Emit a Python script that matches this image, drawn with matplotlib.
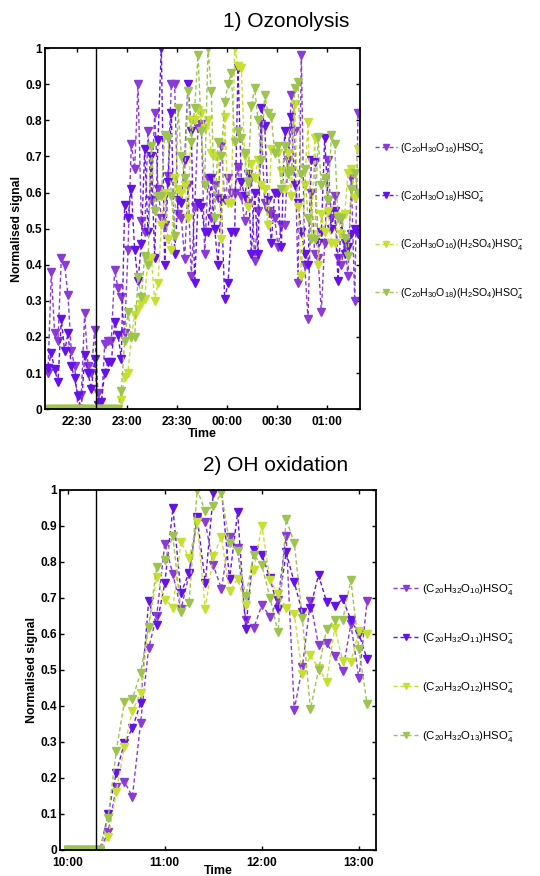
import matplotlib
matplotlib.use("Agg")
import matplotlib.pyplot as plt
import pandas as pd
import numpy as np

plt.rcParams['font.family'] = ['Liberation Sans', 'DejaVu Sans']
plt.rcParams['mathtext.default'] = 'regular'

# ---------------- data: 1) Ozonolysis (2-min sampling) ----------------
oz_start = '2000-01-01 22:12:36'
oz_n = 94
oz_s1 = [0.10, 0.38, 0.21, 0.19, 0.42, 0.40, 0.315, 0.16, 0.12, 0.0,
         0.04, 0.265, 0.12, 0.10, 0.22, 0.045, 0.0, 0.18, 0.19, 0.19,
         0.385, 0.335, 0.31, 0.21, 0.44, 0.735, 0.665, 0.90, 0.52, 0.49,
         0.77, 0.58, 0.82, 0.61, 0.53, 0.51, 0.645, 0.90, 0.90, 0.54,
         0.53, 0.415, 0.62, 0.37, 0.56, 0.78, 0.79, 0.43, 0.64, 0.53,
         0.62, 0.585, 0.73, 0.58, 0.64, 0.60, 0.60, 0.67, 0.59, 0.52,
         0.57, 0.64, 0.41, 0.55, 0.79, 0.57, 0.55, 0.54, 0.53, 0.45,
         0.51, 0.51, 0.69, 0.87, 0.77, 0.35, 0.98, 0.40, 0.25, 0.60,
         0.43, 0.42, 0.27, 0.46, 0.69, 0.53, 0.59, 0.42, 0.40, 0.46,
         0.37, 0.64, 0.30, 0.82]
oz_s2 = [0.115, 0.155, 0.11, 0.075, 0.25, 0.16, 0.21, 0.12, 0.085, 0.035,
         0.0, 0.15, 0.10, 0.055, 0.14, 0.01, 0.02, 0.10, 0.13, 0.13,
         0.24, 0.205, 0.14, 0.565, 0.53, 0.61, 0.44, 0.355, 0.457, 0.72,
         0.49, 0.70, 0.42, 0.745, 1.0, 0.40, 0.63, 0.82, 0.43, 0.58,
         0.57, 0.69, 0.90, 0.77, 0.35, 0.57, 0.56, 0.49, 0.49, 0.64,
         0.50, 0.40, 0.58, 0.305, 0.35, 0.49, 0.49, 0.945, 0.63, 0.59,
         0.65, 0.43, 0.60, 0.43, 0.835, 0.785, 0.58, 0.46, 0.60, 0.60,
         0.45, 0.77, 0.66, 0.81, 0.62, 0.57, 0.49, 0.43, 0.40, 0.69,
         0.685, 0.46, 0.49, 0.75, 0.58, 0.50, 0.55, 0.355, 0.53, 0.43,
         0.45, 0.485, 0.50, 0.485]
oz_s3 = [0.0] * 22 + [
         0.025, 0.09, 0.10, 0.20, 0.26, 0.277, 0.29, 0.305, 0.42, 0.42,
         0.30, 0.35, 0.51, 0.60, 0.47, 0.44, 0.64, 0.61, 0.60, 0.62,
         0.53, 0.80, 0.80, 0.83, 0.82, 0.78, 0.80, 0.71, 0.70, 0.70,
         0.47, 0.81, 0.57, 0.57, 1.0, 0.95, 0.945, 0.70, 0.56, 0.68,
         0.64, 0.69, 0.62, 0.61, 0.51, 0.72, 0.71, 0.71, 0.66, 0.61,
         0.71, 0.59, 0.845, 0.56, 0.37, 0.62, 0.795, 0.475, 0.75, 0.40,
         0.54, 0.49, 0.55, 0.46, 0.46, 0.535, 0.485, 0.54, 0.655, 0.665,
         0.585, 0.72]
oz_s4 = [0.0] * 22 + [
         0.05, 0.19, 0.27, 0.20, 0.20, 0.365, 0.31, 0.425, 0.40, 0.73,
         0.55, 0.59, 0.59, 0.76, 0.75, 0.59, 0.48, 0.835, 0.70, 0.64,
         0.88, 0.74, 0.835, 0.98, 0.77, 0.62, 1.0, 0.88, 0.53, 0.74,
         0.70, 0.85, 0.90, 0.93, 0.74, 0.77, 0.75, 0.71, 0.63, 0.84,
         0.89, 0.80, 0.69, 0.87, 0.82, 0.81, 0.71, 0.73, 0.61, 0.73,
         0.65, 0.66, 0.89, 0.905, 0.65, 0.665, 0.53, 0.47, 0.47, 0.755,
         0.62, 0.64, 0.58, 0.76, 0.735, 0.53, 0.53, 0.475, 0.425, 0.61,
         0.655, 0.60]
oz_labels = [r'(C$_{20}$H$_{30}$O$_{16}$)HSO$_4^{-}$',
             r'(C$_{20}$H$_{30}$O$_{18}$)HSO$_4^{-}$',
             r'(C$_{20}$H$_{30}$O$_{16}$)(H$_2$SO$_4$)HSO$_4^{-}$',
             r'(C$_{20}$H$_{30}$O$_{18}$)(H$_2$SO$_4$)HSO$_4^{-}$']
oz_ticks = ['22:30', '23:00', '23:30', '00:00', '00:30', '01:00']

# ---------------- data: 2) OH oxidation (5-min sampling) ----------------
oh_start = '2000-01-01 10:00'
oh_n = 38
oh_s1 = [0, 0, 0, 0, 0, 0.05, 0.175, 0.19, 0.148, 0.352, 0.56, 0.65, 0.85,
         0.766, 0.668, 0.765, 0.92, 0.91, 0.79, 0.725, 0.87, 0.838, 0.639,
         0.616, 0.68, 0.648, 0.695, 0.872, 0.389, 0.507, 0.69, 0.568, 0.574,
         0.539, 0.497, 0.627, 0.476, 0.69]
oh_s2 = [0, 0, 0, 0, 0, 0.10, 0.215, 0.296, 0.338, 0.407, 0.69, 0.625, 0.74,
         0.948, 0.713, 0.77, 0.925, 0.74, 0.99, 1.0, 0.752, 0.937, 0.613,
         0.833, 0.82, 0.755, 0.67, 0.826, 0.743, 0.66, 0.673, 0.763, 0.689,
         0.678, 0.696, 0.639, 0.60, 0.53]
oh_s3 = [0, 0, 0, 0, 0, 0.035, 0.16, 0.287, 0.386, 0.435, 0.615, 0.757, 0.695,
         0.673, 0.856, 0.81, 0.91, 0.67, 0.817, 0.868, 0.718, 0.752, 0.68,
         0.778, 0.90, 0.75, 0.71, 0.673, 0.655, 0.488, 0.54, 0.505, 0.467,
         0.617, 0.525, 0.523, 0.607, 0.60]
oh_s4 = [0, 0, 0, 0, 0, 0.09, 0.275, 0.41, 0.42, 0.49, 0.62, 0.785, 0.805,
         0.872, 0.661, 0.685, 1.0, 0.94, 0.955, 0.99, 0.852, 0.829, 0.704,
         0.82, 0.79, 0.70, 0.604, 0.918, 0.853, 0.645, 0.39, 0.50, 0.613,
         0.639, 0.639, 0.749, 0.557, 0.406]
oh_labels = [r'(C$_{20}$H$_{32}$O$_{10}$)HSO$_4^{-}$',
             r'(C$_{20}$H$_{32}$O$_{11}$)HSO$_4^{-}$',
             r'(C$_{20}$H$_{32}$O$_{12}$)HSO$_4^{-}$',
             r'(C$_{20}$H$_{32}$O$_{13}$)HSO$_4^{-}$']
oh_ticks = ['10:00', '11:00', '12:00', '13:00']

colors = ['#8a3ad6', '#6412e8', '#c6e031', '#9cc44e']

fig = plt.figure(figsize=(5.40, 8.76), dpi=100)


def style_axes(ax, xlabelpad):
    ax.set_ylim(0, 1)
    ax.set_yticks(np.arange(0, 1.01, 0.1))
    ax.set_yticklabels(['0'] + ['%.1f' % v for v in np.arange(0.1, 0.95, 0.1)] + ['1'])
    ax.tick_params(direction='in', top=True, right=True, length=3, width=1,
                   labelsize=8.6)
    ax.tick_params(axis='y', pad=2)
    ax.tick_params(axis='x', pad=5)
    for lab in ax.get_xticklabels() + ax.get_yticklabels():
        lab.set_fontweight('bold')
    for sp in ax.spines.values():
        sp.set_linewidth(1.3)
    ax.set_xlabel('Time', fontsize=9, fontweight='bold', labelpad=xlabelpad)
    ax.set_ylabel('Normalised signal', fontsize=8.8, fontweight='bold', labelpad=2)


def draw(ax, times, series, labels):
    handles = []
    for s, c, lab in zip(series, colors, labels):
        h, = ax.plot(times, s, linestyle='--', dashes=(3, 2), color=c, lw=1.0,
                     marker='v', ms=5.2, mfc=c, mec=c, label=lab)
        handles.append(h)
    return handles


# ---- top ----
ax1 = fig.add_axes([0.0833, 0.533, 0.5834, 0.412])
t1 = pd.date_range(oz_start, periods=oz_n, freq='2min')
h1 = draw(ax1, t1, [oz_s1, oz_s2, oz_s3, oz_s4], oz_labels)
ax1.set_xlim(pd.Timestamp('2000-01-01 22:10:48'), pd.Timestamp('2000-01-02 01:19:48'))
ax1.axvline(pd.Timestamp('2000-01-01 22:41:24'), color='black', lw=1.0)
tick_pos1 = [pd.Timestamp('2000-01-01 22:30') + pd.Timedelta(minutes=30 * i)
             for i in range(len(oz_ticks))]
ax1.set_xticks(tick_pos1)
ax1.set_xticklabels(oz_ticks)
style_axes(ax1, 0)
fig.text(0.53, 0.975, '1) Ozonolysis', ha='center', va='center', fontsize=15)
leg1 = fig.legend(handles=h1, loc='upper left', bbox_to_anchor=(0.687, 0.844),
                  frameon=False, fontsize=7.6, labelspacing=3.15,
                  handlelength=2.1, handletextpad=0.25, borderaxespad=0,
                  markerscale=0.85)

# ---- bottom ----
ax2 = fig.add_axes([0.111, 0.0297, 0.5852, 0.4113])
t2 = pd.date_range(oh_start, periods=oh_n, freq='5min')
h2 = draw(ax2, t2, [oh_s1, oh_s2, oh_s3, oh_s4], oh_labels)
ax2.set_xlim(pd.Timestamp('2000-01-01 09:55:12'), pd.Timestamp('2000-01-01 13:10:30'))
ax2.axvline(pd.Timestamp('2000-01-01 10:17:20'), color='black', lw=1.0)
tick_pos2 = [pd.Timestamp('2000-01-01 10:00') + pd.Timedelta(hours=i)
             for i in range(len(oh_ticks))]
ax2.set_xticks(tick_pos2)
ax2.set_xticklabels(oh_ticks)
style_axes(ax2, -2.5)
fig.text(0.51, 0.469, '2) OH oxidation', ha='center', va='center', fontsize=15)
leg2 = fig.legend(handles=h2, loc='upper left', bbox_to_anchor=(0.72, 0.341),
                  frameon=False, fontsize=8.2, labelspacing=2.98,
                  handlelength=2.2, handletextpad=0.3, borderaxespad=0,
                  markerscale=0.85)

fig.savefig('out.png', dpi=100)
